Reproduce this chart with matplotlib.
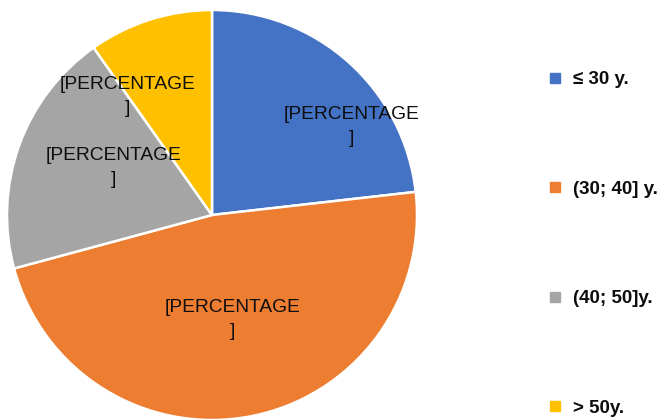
import matplotlib
matplotlib.use("Agg")
import matplotlib.pyplot as plt
from matplotlib.lines import Line2D

categories = ["≤ 30 y.", "(30; 40] y.", "(40; 50]y.", "> 50y."]
values = [23.2, 47.6, 19.4, 9.8]
colors = ["#4472C4", "#ED7D31", "#A5A5A5", "#FFC000"]
label_text = "[PERCENTAGE\n]"

W, H = 670, 419
fig = plt.figure(figsize=(W / 100, H / 100), dpi=100)
cx, cy, r = 212, 215, 205
ax = fig.add_axes([(cx - r) / W, (H - cy - r) / H, 2 * r / W, 2 * r / H])
wedges, _ = ax.pie(values, colors=colors, startangle=90, counterclock=False,
                   wedgeprops=dict(edgecolor="white", linewidth=1.8))
ax.set_xlim(-1, 1)
ax.set_ylim(-1, 1)
ax.set_aspect("equal")
ax.axis("off")

label_pos = [(0.68, 0.43), (0.10, -0.51), (-0.48, 0.23), (-0.41, 0.58)]
for (x, y) in label_pos:
    ax.text(x, y, label_text, ha="center", va="center", fontsize=13.8,
            family="Liberation Sans", color="#0d0d0d", linespacing=1.55)

handles = [Line2D([], [], marker="s", linestyle="none", markersize=6.5,
                  markerfacecolor=c, markeredgecolor=c) for c in colors]
leg = fig.legend(handles, categories, loc="upper left",
                 bbox_to_anchor=(538 / W, 1 - 62 / H), frameon=False,
                 prop=dict(family="Liberation Sans", weight="bold", size=13.5),
                 labelspacing=4.92, handlelength=0.8, handletextpad=0.55,
                 borderpad=0)
for t in leg.get_texts():
    t.set_color("#0d0d0d")

fig.savefig("out.png", dpi=100)
